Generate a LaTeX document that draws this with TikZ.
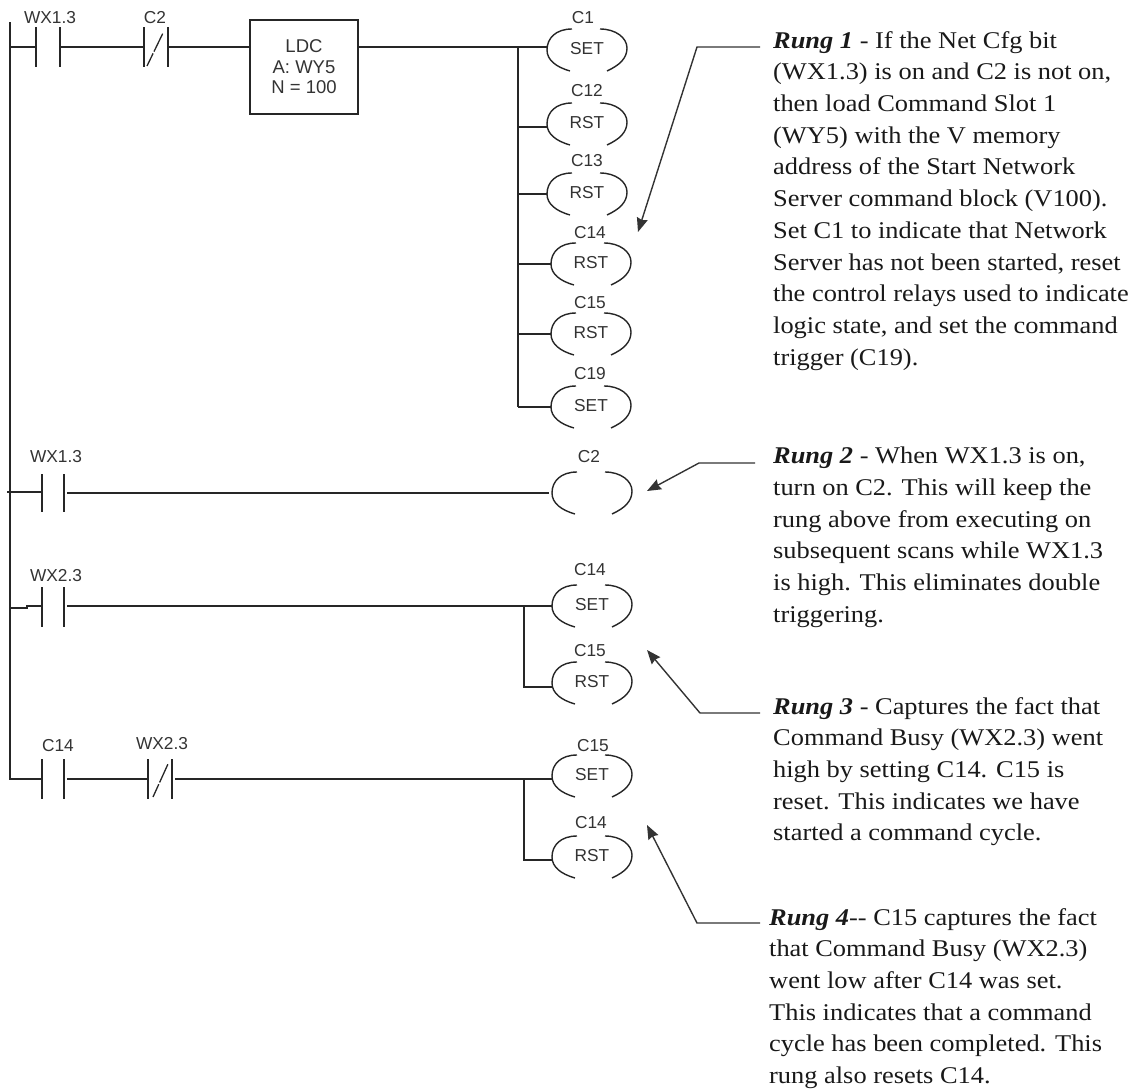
\documentclass[tikz,border=0pt]{standalone}
\usepackage{fontspec}
\setmainfont[FakeStretch=1.1]{Liberation Serif}
\setsansfont{Liberation Sans}
\usetikzlibrary{arrows.meta}

\tikzset{
	wire/.style={line width=1.5pt, color=black!85},
	slash/.style={line width=1.3pt, color=black!85, dash pattern=on 14pt off 2pt on 20pt},
	callout/.style={line width=1.4pt, color=black!80, -{Stealth[length=14pt,width=11pt,inset=1.5pt]}},
	tag/.style={font=\sffamily\fontsize{17.3}{19}\selectfont, color=black!80, inner sep=0pt, yshift=-1pt},
	note/.style={font=\rmfamily\fontsize{24}{31.7}\selectfont, align=left, anchor=north west, inner sep=0pt, color=black!90},
}
\newcommand{\rung}[1]{\textbf{\textit{Rung #1}}}
% name, left x, right x, wire y, half height
\newcommand{\contact}[5]{
	\coordinate (#1-l) at (#2,#4);
	\coordinate (#1-r) at (#3,#4);
	\draw[wire] (#2,#4-#5) -- (#2,#4+#5);
	\draw[wire] (#3,#4-#5) -- (#3,#4+#5);
}
% name, centre x, centre y, text
\newcommand{\coil}[4]{
	\coordinate (#1-l) at (#2-40,#3);
	\draw[wire, line width=1.4pt] (#2-15,#3-21) .. controls (#2-31,#3-21) and (#2-40,#3-12) .. (#2-40,#3) .. controls (#2-40,#3+10) and (#2-31,#3+17) .. (#2-17,#3+21);
	\draw[wire, line width=1.4pt] (#2+13,#3-21) .. controls (#2+29,#3-21) and (#2+40,#3-12) .. (#2+40,#3-2) .. controls (#2+40,#3+8) and (#2+33,#3+15) .. (#2+20,#3+21);
	\node[tag] (#1-t) at (#2,#3-2) {#4};
}

\begin{document}
\begin{tikzpicture}[x=1pt,y=-1pt]
	\useasboundingbox (0,0) rectangle (1141,1090);
	% power rail
	\coordinate (railtop) at (10,22);
	\coordinate (railb) at (7,492);
	\coordinate (railc) at (10,608);

	% rung 1
	\contact{ca}{36}{60}{47}{20}
	\contact{cb}{144}{168}{47}{20}
	\draw[slash] (147,66) -- (163,33);
	\node[tag] (wxa) at (50,17) {WX1.3};
	\node[tag] (cbl) at (155,17) {C2};
	\node[draw, wire, minimum width=108pt, minimum height=94pt, inner sep=0pt, align=center, font=\sffamily\fontsize{18.5}{20.5}\selectfont, text=black!80] (ldc) at (304,67) {LDC\\A: WY5\\N = 100};
	\coil{ka}{587}{50}{SET}
	\coil{kb}{587}{124}{RST}
	\coil{kc}{587}{194}{RST}
	\coil{kd}{591}{264}{RST}
	\coil{ke}{591}{334}{RST}
	\coil{kf}{591}{407}{SET}
	\node[tag] (kal) at (583,17) {C1};
	\node[tag] (kbl) at (587,90) {C12};
	\node[tag] (kcl) at (587,160) {C13};
	\node[tag] (kdl) at (590,232) {C14};
	\node[tag] (kel) at (590,302) {C15};
	\node[tag] (kfl) at (590,373) {C19};
	\coordinate (tapa) at (518,47);
	\coordinate (tapb) at (518,127);
	\coordinate (tapc) at (518,194);
	\coordinate (tapd) at (518,264);
	\coordinate (tape) at (518,334);
	\coordinate (tapf) at (518,407);
	\draw[wire] (10,47) -- (ca-l);
	\draw[wire] (ca-r) -- (cb-l);
	\draw[wire] (cb-r) -- (cb-r -| ldc.west);
	\draw[wire] (ca-r -| ldc.east) -- (tapa -| ka-l);
	\draw[wire] (tapa) -- (tapf);
	\draw[wire] (tapb) -- (tapb -| kb-l);
	\draw[wire] (tapc) -- (tapc -| kc-l);
	\draw[wire] (tapd) -- (tapd -| kd-l);
	\draw[wire] (tape) -- (tape -| ke-l);
	\draw[wire] (tapf) -- (tapf -| kf-l);

	% rung 2
	\contact{cc}{42}{64}{493}{19}
	\coil{kg}{592}{493}{}
	\node[tag] (wxb) at (56,456) {WX1.3};
	\node[tag] (kgl) at (589,456) {C2};
	\draw[wire] (railb) -- (railb -| cc-l);
	\draw[wire, shorten <=3pt, shorten >=3pt] (cc-r) -- (kg-l);

	% rung 3
	\contact{cd}{42}{64}{607}{20}
	\coil{kh}{592}{606}{SET}
	\coil{ki}{592}{683}{RST}
	\node[tag] (wxc) at (56,575) {WX2.3};
	\node[tag] (khl) at (590,569) {C14};
	\node[tag] (kil) at (590,650) {C15};
	\coordinate (tapg) at (524,606);
	\coordinate (taph) at (524,687);
	\draw[wire] (railc) -- (27,608) -- (27,606) -- (cd-l |- tapg);
	\draw[wire, shorten <=3pt] (cd-r |- tapg) -- (kh-l);
	\draw[wire] (tapg) -- (taph) -- (taph -| ki-l);

	% rung 4
	\contact{ce}{42}{64}{779}{20}
	\contact{cf}{148}{172}{779}{20}
	\draw[slash] (153,797) -- (168,764);
	\coil{kj}{592}{776}{SET}
	\coil{kk}{592}{857}{RST}
	\node[tag] (cel) at (58,745) {C14};
	\node[tag] (wxd) at (162,743) {WX2.3};
	\node[tag] (kjl) at (593,745) {C15};
	\node[tag] (kkl) at (591,822) {C14};
	\coordinate (tapi) at (524,779);
	\coordinate (tapj) at (524,860);
	\draw[wire] (railtop) |- (ce-l);
	\draw[wire, shorten <=3pt] (ce-r) -- (cf-l);
	\draw[wire, shorten <=3pt] (cf-r) -- (tapi -| kj-l);
	\draw[wire] (tapi) -- (tapj) -- (tapj -| kk-l);

	% notes
	\node[note] (notea) at (773,31) {\rung{1} - If the Net Cfg bit\\(WX1.3) is on and C2 is not on,\\then load Command Slot 1\\(WY5) with the V memory\\address of the Start Network\\Server command block (V100).\\Set C1 to indicate that Network\\Server has not been started, reset\\the control relays used to indicate\\logic state, and set the command\\trigger (C19).};
	\node[note] (noteb) at (773,447) {\rung{2} - When WX1.3 is on,\\turn on C2.  This will keep the\\rung above from executing on\\subsequent scans while WX1.3\\is high. This eliminates double\\triggering.};
	\node[note] (notec) at (773,697) {\rung{3} - Captures the fact that\\Command Busy (WX2.3) went\\high by setting C14.  C15 is\\reset.  This indicates we have\\started a command cycle.};
	\node[note] (noted) at (769,908) {\rung{4}{-}{-} C15 captures the fact\\that Command Busy (WX2.3)\\went low after C14 was set.\\This indicates that a command\\cycle has been completed. This\\rung also resets C14.};

	% callouts
	\coordinate (benda) at (697,47);
	\coordinate (bendb) at (699,463);
	\coordinate (bendc) at (700,713);
	\coordinate (bendd) at (697,923);
	\coordinate (tipa) at (638,232);
	\coordinate (tipb) at (647,491);
	\coordinate (tipc) at (647,650);
	\coordinate (tipd) at (647,825);
	\coordinate (froma) at (760,47);
	\coordinate (fromb) at (755,463);
	\coordinate (fromc) at (760,713);
	\coordinate (fromd) at (760,923);
	\draw[callout] (froma) -- (benda) -- (tipa);
	\draw[callout] (fromb) -- (bendb) -- (tipb);
	\draw[callout] (fromc) -- (bendc) -- (tipc);
	\draw[callout] (fromd) -- (bendd) -- (tipd);
\end{tikzpicture}
\end{document}
